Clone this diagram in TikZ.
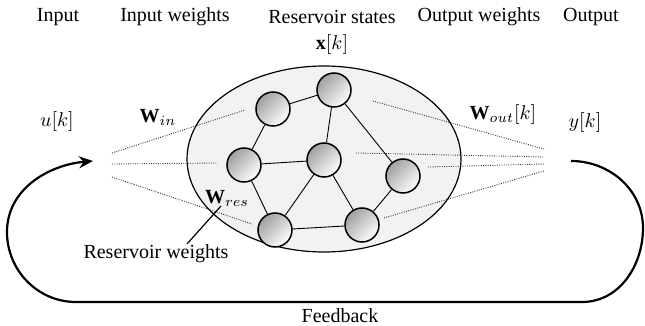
\documentclass[tikz,border=0pt]{standalone}
\usepackage{fontspec}
\setmainfont{Liberation Serif}
\usetikzlibrary{arrows.meta,shapes.geometric}
\begin{document}
\begin{tikzpicture}[x=0.5pt,y=-0.5pt,
  lbl/.style={inner sep=0pt,font=\fontsize{10}{12}\selectfont},
  neuron/.style={circle,draw=black,line width=0.75pt,minimum size=17pt,inner sep=0pt,
    top color=gray!75,bottom color=white,shading angle=45},
  syn/.style={line width=0.45pt},
  wdot/.style={line width=0.45pt,dash pattern=on 0.45pt off 0.7pt,black!80},
  fb/.style={line width=1.1pt,-{Stealth[length=7pt,width=6pt]}}]
\useasboundingbox (0,0) rectangle (645,326);
% headers
\node[lbl] (hin) at (58,17) {Input};
\node[lbl] (hinw) at (175,17) {Input weights};
\node[lbl] (hres) at (332,17) {Reservoir states};
\node[lbl] (hout) at (479,17) {Output weights};
\node[lbl] (hy) at (591,17) {Output};
\node[lbl] (xk) at (332,45) {$\mathbf{x}[k]$};
% reservoir
\node[ellipse,draw,line width=0.6pt,fill=gray!10,minimum width=137pt,minimum height=93pt,inner sep=0pt] (res) at (324,159) {};
\node[neuron] (n1) at (273,109) {};
\node[neuron] (n2) at (334,90) {};
\node[neuron] (n3) at (244,165) {};
\node[neuron] (n4) at (324,160) {};
\node[neuron] (n5) at (403,176) {};
\node[neuron] (n6) at (275,230) {};
\node[neuron] (n7) at (362,225) {};
\draw[syn] (n1)--(n2) (n1)--(n3) (n2)--(n4) (n2)--(n5) (n3)--(n4) (n3)--(n6)
  (n4)--(n6) (n4)--(n7) (n5)--(n7) (n6)--(n7);
% input weights
\coordinate (i1) at (112,153); \coordinate (i2) at (112,164); \coordinate (i3) at (112,177);
\coordinate (e1) at (245,110); \coordinate (e2) at (217,163); \coordinate (e3) at (252,224);
\draw[wdot] (i1)--(e1) (i2)--(e2) (i3)--(e3);
% output weights
\coordinate (s1) at (373,101); \coordinate (s2) at (356,153); \coordinate (s3) at (428,167); \coordinate (s4) at (384,218);
\coordinate (o1) at (544,149); \coordinate (o2) at (544,157); \coordinate (o3) at (544,164); \coordinate (o4) at (544,171);
\draw[wdot] (s1)--(o1) (s2)--(o2) (s3)--(o3) (s4)--(o4);
% labels
\node[lbl] (uk) at (57,122) {$u[k]$};
\node[lbl] (win) at (158,117) {$\mathbf{W}_{in}$};
\node[lbl] (wout) at (503,115) {$\mathbf{W}_{out}[k]$};
\node[lbl] (yk) at (585,123) {$y[k]$};
\node[lbl] (wres) at (227,198) {$\mathbf{W}_{res}$};
\node[lbl] (rw) at (156,254) {Reservoir weights};
\coordinate (rwp) at (187,244);
\coordinate (wrp) at (221,206);
\draw[line width=0.6pt] (rwp)--(wrp);
% feedback
\coordinate (fs) at (571,161);
\coordinate (fe) at (93,161);
\draw[fb] (fs) to[out=0,in=90] (643,228) to[out=-90,in=0] (582,302) -- (76,302)
  to[out=180,in=-90] (7,232) to[out=90,in=185] (fe);
\node[lbl] (fbl) at (340,316) {Feedback};
\end{tikzpicture}
\end{document}
